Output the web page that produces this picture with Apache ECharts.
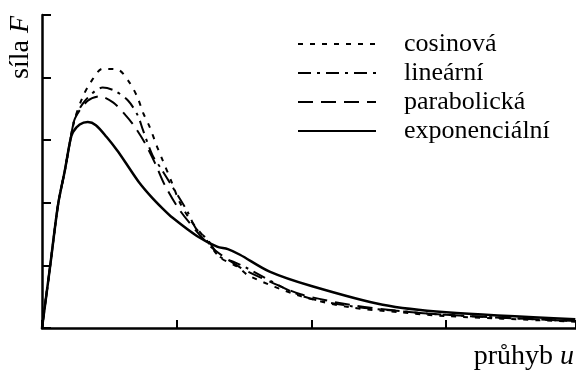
<!DOCTYPE html>
<html>
<head>
<meta charset="utf-8">
<script src="https://cdn.jsdelivr.net/npm/echarts@6/dist/echarts.min.js"></script>
<style>
html,body{margin:0;padding:0;background:#fff;}
#chart{width:576px;height:374px;}
</style>
</head>
<body>
<div id="chart"></div>
<script>
// krivky sila F vs pruhyb u, [u, F]
var seriesNames = ['cosinová', 'lineární', 'parabolická', 'exponenciální'];

var cosinova = [[0,0],[0.06,0.98],[0.12,1.98],[0.17,2.52],[0.21,3.0],[0.245,3.35],[0.30,3.68],[0.36,3.92],
	[0.45,4.14],[0.56,4.13],[0.65,3.92],[0.71,3.68],[0.75,3.44],[0.80,3.21],[0.85,2.92],[0.89,2.71],
	[0.965,2.32],[1.02,2.02],[1.10,1.73],[1.22,1.41],[1.32,1.13],[1.45,0.98],[1.54,0.83],[1.92,0.51],
	[2.29,0.33],[2.66,0.25],[3.0,0.19],[3.96,0.10]];

var linearni = [[0,0],[0.06,0.98],[0.12,1.98],[0.17,2.52],[0.21,3.0],[0.245,3.35],[0.32,3.63],[0.45,3.84],
	[0.54,3.79],[0.64,3.63],[0.71,3.40],[0.75,3.16],[0.82,2.76],[0.88,2.56],[0.97,2.25],[1.08,1.86],
	[1.14,1.60],[1.23,1.41],[1.32,1.14],[1.42,1.06],[1.51,0.97],[1.92,0.52],[2.29,0.35],[2.66,0.27],
	[3.0,0.21],[3.96,0.11]];

var parabolicka = [[0,0],[0.06,0.98],[0.12,1.98],[0.17,2.52],[0.21,3.0],[0.245,3.35],[0.34,3.63],[0.43,3.70],
	[0.53,3.60],[0.62,3.40],[0.69,3.21],[0.76,2.97],[0.84,2.63],[0.91,2.29],[1.02,1.89],[1.17,1.49],
	[1.28,1.25],[1.47,0.97],[1.62,0.81],[1.92,0.54],[2.29,0.37],[2.66,0.27],[3.0,0.21],[3.96,0.11]];

var exponencialni = [[0,0],[0.06,0.98],[0.12,1.98],[0.17,2.52],[0.21,3.0],[0.23,3.13],[0.28,3.25],[0.34,3.29],
	[0.40,3.24],[0.48,3.05],[0.56,2.83],[0.64,2.58],[0.72,2.33],[0.81,2.10],[0.90,1.90],[0.97,1.76],
	[1.15,1.47],[1.30,1.30],[1.38,1.26],[1.47,1.17],[1.69,0.90],[2.0,0.67],[2.53,0.37],[3.0,0.25],[3.96,0.14]];

var font = '"Liberation Serif", "DejaVu Serif", serif';

function lineSerie(name, data, width, dash){
	return {
		name: name, type: 'line', data: data, showSymbol: false, symbol: 'none',
		smooth: 0.3,
		lineStyle: { color: '#000', width: width, type: dash }, itemStyle: { color: '#000' }
	};
}

var option = {
	animation: false,
	backgroundColor: '#fff',
	grid: { left: 42, right: 0, top: 15, bottom: 46 },
	legend: {
		orient: 'vertical',
		left: 292,
		top: 26,
		itemWidth: 78,
		itemHeight: 14,
		itemGap: 3,
		itemStyle: { opacity: 0 },
		textStyle: { fontFamily: font, fontSize: 26, color: '#000', lineHeight: 26, padding: [0, 0, 0, 23] },
		data: seriesNames
	},
	xAxis: {
		type: 'value', min: 0, max: 3.965, interval: 1,
		axisLine: { lineStyle: { color: '#000', width: 2.5 } },
		axisTick: { inside: true, length: 8, lineStyle: { color: '#000', width: 2 } },
		axisLabel: { show: false },
		splitLine: { show: false }
	},
	yAxis: {
		type: 'value', min: 0, max: 5, interval: 1,
		axisLine: { show: true, lineStyle: { color: '#000', width: 2.5 } },
		axisTick: { show: true, inside: true, length: 9, lineStyle: { color: '#000', width: 2 } },
		axisLabel: { show: false },
		splitLine: { show: false }
	},
	graphic: [
		{
			type: 'text', left: 7, top: 16, rotation: Math.PI / 2,
			style: {
				text: 'síla {i|F}', fill: '#000', font: '28px ' + font,
				rich: { i: { fontStyle: 'italic', fontFamily: font, fontSize: 28 } }
			}
		},
		{
			type: 'text', right: 2, top: 343,
			style: {
				text: 'průhyb {i|u}', fill: '#000', font: '28px ' + font,
				rich: { i: { fontStyle: 'italic', fontFamily: font, fontSize: 28 } }
			}
		}
	],
	series: [
		lineSerie('cosinová', cosinova, 2, [5, 7]),
		lineSerie('lineární', linearni, 2, [13, 6, 3, 6]),
		lineSerie('parabolická', parabolicka, 2, [15, 8]),
		lineSerie('exponenciální', exponencialni, 2.5, 'solid')
	]
};

var mychart = echarts.init(document.getElementById('chart'));
mychart.setOption(option);
</script>
</body>
</html>
